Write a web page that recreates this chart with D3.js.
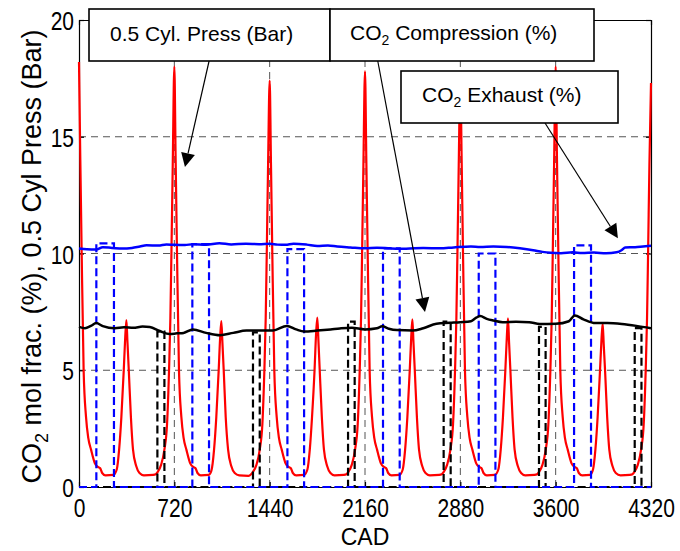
<!DOCTYPE html>
<html>
<head>
<meta charset="utf-8">
<script src="https://cdn.jsdelivr.net/npm/d3@7"></script>
<style>
  body { margin: 0; background: #fff; }
  text { font-family: "Liberation Sans", Arial, Helvetica, sans-serif; fill: #000; }
</style>
</head>
<body>
<svg id="chart" width="680" height="551"></svg>
<script>
// tick values
const cadTicks = [0, 720, 1440, 2160, 2880, 3600, 4320];
const yTicks = [0, 5, 10, 15, 20];

// 0.5 x cylinder pressure (bar) vs crank angle
const cylPress = [
  [0,18.2],[10,14.0],[20,10.1],[35,5.0],[53,3.0],[70,2.1],[91,1.6],[121,1.0],[145,0.85],[160,0.8],[175,0.6],[200,0.5],[260,0.52],[285,0.75],[303,1.6],[320,3.0],[338,5.0],[349,6.4],[358,7.15],[366,6.2],[376,5.0],[392,3.0],[408,1.6],[432,0.9],[457,0.6],[490,0.5],[560,0.52],[580,0.55],[595,0.65],[620,0.95],[645,1.6],[665,2.7],[680,5.0],[690,7.2],[698,10.0],[708,13.8],
  [720,18.0],[730,14.0],[740,10.1],[755,5.0],[773,3.0],[790,2.1],[811,1.6],[841,1.0],[865,0.85],[880,0.8],[895,0.6],[920,0.5],[980,0.52],[1000,0.7],[1020,1.6],[1037,3.0],[1055,5.0],[1066,6.4],[1075,7.1],[1083,6.2],[1093,5.0],[1108,3.0],[1126,1.6],[1150,0.9],[1176,0.6],[1210,0.5],[1280,0.48],[1300,0.55],[1314,0.65],[1340,0.95],[1365,1.6],[1385,2.7],[1400,5.0],[1410,7.2],[1418,10.0],[1428,13.8],
  [1440,17.4],[1450,13.8],[1460,10.0],[1475,5.0],[1493,3.0],[1510,2.1],[1531,1.6],[1561,1.0],[1585,0.85],[1600,0.8],[1615,0.6],[1640,0.5],[1700,0.52],[1725,0.75],[1743,1.6],[1760,3.0],[1779,5.0],[1790,6.5],[1800,7.26],[1808,6.3],[1818,5.0],[1834,3.0],[1850,1.6],[1874,0.9],[1899,0.6],[1930,0.5],[2000,0.52],[2020,0.55],[2035,0.65],[2060,0.95],[2085,1.6],[2105,2.7],[2120,5.0],[2130,7.2],[2138,10.0],[2148,13.8],
  [2160,17.8],[2170,14.0],[2180,10.1],[2195,5.0],[2213,3.0],[2230,2.1],[2251,1.6],[2281,1.0],[2305,0.85],[2320,0.8],[2335,0.6],[2360,0.5],[2420,0.52],[2445,0.75],[2463,1.6],[2480,3.0],[2498,5.0],[2509,6.4],[2518,7.18],[2526,6.2],[2536,5.0],[2552,3.0],[2568,1.6],[2592,0.9],[2617,0.6],[2650,0.5],[2720,0.52],[2740,0.55],[2755,0.65],[2780,0.95],[2805,1.6],[2825,2.7],[2840,5.0],[2850,7.2],[2858,10.0],[2868,13.8],
  [2880,17.6],[2890,14.0],[2900,10.1],[2915,5.0],[2933,3.0],[2950,2.1],[2971,1.6],[3001,1.0],[3025,0.85],[3040,0.8],[3055,0.6],[3080,0.5],[3140,0.52],[3167,0.75],[3185,1.6],[3202,3.0],[3220,5.0],[3231,6.4],[3240,7.22],[3248,6.2],[3258,5.0],[3274,3.0],[3290,1.6],[3314,0.9],[3339,0.6],[3370,0.5],[3440,0.52],[3460,0.55],[3475,0.65],[3500,0.95],[3525,1.6],[3545,2.7],[3560,5.0],[3570,7.2],[3578,10.0],[3588,13.8],
  [3600,18.0],[3610,14.0],[3620,10.1],[3635,5.0],[3653,3.0],[3670,2.1],[3691,1.6],[3721,1.0],[3745,0.85],[3760,0.8],[3775,0.6],[3800,0.5],[3860,0.52],[3882,0.75],[3900,1.6],[3917,3.0],[3935,5.0],[3946,6.3],[3955,7.0],[3963,6.1],[3973,5.0],[3989,3.0],[4005,1.6],[4029,0.9],[4054,0.6],[4090,0.5],[4160,0.52],[4180,0.55],[4195,0.65],[4220,0.95],[4245,1.6],[4265,2.7],[4280,5.0],[4290,7.2],[4298,10.0],[4308,13.8],[4320,17.3]
];

// CO2 exhaust (%)
const co2Exhaust = [
  [0,10.21],[60,10.18],[130,10.17],[180,10.27],[250,10.24],[330,10.21],[400,10.24],[460,10.3],[510,10.35],[600,10.34],[660,10.39],[720,10.37],[800,10.36],[860,10.4],[960,10.38],[1060,10.44],[1150,10.39],[1260,10.42],[1360,10.4],[1440,10.42],[1500,10.38],[1560,10.37],[1620,10.42],[1720,10.38],[1800,10.32],[1880,10.34],[1950,10.3],[2050,10.26],[2160,10.22],[2250,10.25],[2350,10.22],[2470,10.2],[2600,10.24],[2725,10.22],[2830,10.26],[2960,10.3],[3030,10.28],[3130,10.3],[3230,10.28],[3330,10.22],[3430,10.14],[3500,10.07],[3560,10.03],[3640,10.01],[3730,10.05],[3800,10.02],[3890,10.04],[3980,10.01],[4060,10.05],[4100,10.15],[4125,10.26],[4200,10.27],[4260,10.3],[4320,10.33]
];

// CO2 compression (%)
const co2Compression = [
  [0,6.86],[45,6.8],[90,6.9],[130,7.02],[180,6.89],[270,6.8],[340,6.84],[410,6.82],[480,6.87],[535,6.85],[610,6.68],[685,6.55],[740,6.58],[790,6.6],[860,6.75],[960,6.6],[1065,6.5],[1165,6.6],[1265,6.7],[1365,6.7],[1465,6.7],[1570,6.9],[1640,6.75],[1700,6.66],[1800,6.7],[1900,6.75],[1970,6.79],[2060,6.82],[2160,6.75],[2250,6.8],[2290,6.88],[2340,6.78],[2400,6.72],[2520,6.7],[2600,6.8],[2700,6.99],[2800,7.03],[2880,7.06],[2960,7.1],[3000,7.25],[3030,7.32],[3080,7.2],[3130,7.13],[3200,7.06],[3300,7.08],[3400,7.06],[3480,6.98],[3600,6.99],[3700,7.1],[3745,7.35],[3810,7.18],[3900,7.02],[3990,7.02],[4100,6.98],[4210,6.9],[4320,6.8]
];

// sampling windows (start CAD, end CAD, mean level)
const exhStart = [131, 856, 1574, 2296, 3019, 3739];
const exhEnd = [264, 982, 1700, 2422, 3145, 3867];
const exhLevel = [10.43, 10.4, 10.19, 10.22, 10.0, 10.35];

const cmpStart = [592, 1314, 2032, 2754, 3474, 4197];
const cmpEnd = [645, 1365, 2082, 2807, 3524, 4248];
const cmpLevel = [6.65, 6.62, 7.08, 7.08, 6.86, 6.8];

const W = 680, H = 551;
const margin = { top: 20, right: 29, bottom: 64, left: 79 };

const svg = d3.select("#chart");

const x = d3.scaleLinear().domain([0, 4320]).range([margin.left, W - margin.right]);
const y = d3.scaleLinear().domain([0, 20]).range([H - margin.bottom, margin.top]);

// grid
const grid = svg.append("g")
  .attr("stroke", "#555")
  .attr("stroke-width", 1)
  .attr("stroke-dasharray", "7,5");
grid.selectAll("line.h").data(yTicks.slice(1, -1)).join("line")
  .attr("x1", x(0)).attr("x2", x(4320))
  .attr("y1", d => y(d)).attr("y2", d => y(d));
grid.selectAll("line.v").data(cadTicks.slice(1, -1)).join("line")
  .attr("y1", y(0)).attr("y2", y(20))
  .attr("x1", d => x(d)).attr("x2", d => x(d));

// axes box
const fontTick = 21;
const xAxis = svg.append("g")
  .attr("transform", `translate(0,${y(0)})`)
  .call(d3.axisBottom(x).tickValues(cadTicks).tickFormat(d3.format("d")).tickSize(-5).tickSizeOuter(0));
xAxis.selectAll("text")
  .attr("y", null).attr("dy", null)
  .attr("transform", "translate(0,30) scale(1,1.27)")
  .style("font-size", fontTick + "px");

const yAxis = svg.append("g")
  .attr("transform", `translate(${x(0)},0)`)
  .call(d3.axisLeft(y).tickValues(yTicks).tickSize(-5).tickSizeOuter(0));
yAxis.selectAll("text")
  .attr("x", null).attr("dy", null)
  .attr("transform", "translate(-5,9.5) scale(1,1.27)")
  .style("font-size", fontTick + "px");

svg.append("g")
  .attr("transform", `translate(0,${y(20)})`)
  .call(d3.axisTop(x).tickValues(cadTicks).tickSize(-5).tickSizeOuter(0).tickFormat(""));
svg.append("g")
  .attr("transform", `translate(${x(4320)},0)`)
  .call(d3.axisRight(y).tickValues(yTicks).tickSize(-5).tickSizeOuter(0).tickFormat(""));

svg.selectAll(".domain, .tick line").attr("stroke", "#000").attr("stroke-width", 1.2);
svg.selectAll(".tick text").attr("fill", "#000");

// series
const line = d3.line().x(d => x(d[0])).y(d => y(d[1]));
const smooth = d3.line().x(d => x(d[0])).y(d => y(d[1])).curve(d3.curveMonotoneX);

const windowPath = (starts, ends, levels) => {
  const pts = [[0, 0]];
  starts.forEach((s, i) => {
    pts.push([s, 0], [s, levels[i]], [ends[i], levels[i]], [ends[i], 0]);
  });
  pts.push([4320, 0]);
  return pts;
};

svg.append("path")
  .datum(cylPress)
  .attr("fill", "none")
  .attr("stroke", "#ff0000")
  .attr("stroke-width", 2.2)
  .attr("d", smooth);

svg.append("path")
  .datum(windowPath(cmpStart, cmpEnd, cmpLevel))
  .attr("fill", "none")
  .attr("stroke", "#000")
  .attr("stroke-width", 2.2)
  .attr("stroke-dasharray", "8,4")
  .attr("d", line);

svg.append("path")
  .datum(windowPath(exhStart, exhEnd, exhLevel))
  .attr("fill", "none")
  .attr("stroke", "#0000ff")
  .attr("stroke-width", 2.2)
  .attr("stroke-dasharray", "8,4")
  .attr("d", line);

svg.append("path")
  .datum(co2Compression)
  .attr("fill", "none")
  .attr("stroke", "#000")
  .attr("stroke-width", 2.5)
  .attr("d", smooth);

svg.append("path")
  .datum(co2Exhaust)
  .attr("fill", "none")
  .attr("stroke", "#0000ff")
  .attr("stroke-width", 2.5)
  .attr("d", smooth);

// axis titles
svg.append("text")
  .attr("x", (x(0) + x(4320)) / 2)
  .attr("y", 545)
  .attr("text-anchor", "middle")
  .style("font-size", "23px")
  .text("CAD");

const yTitle = svg.append("text")
  .attr("transform", `translate(41,${(y(0) + y(20)) / 2 + 3}) rotate(-90)`)
  .attr("text-anchor", "middle")
  .style("font-size", "27px");
yTitle.append("tspan").text("CO");
yTitle.append("tspan").attr("dy", 7).style("font-size", "18px").text("2");
yTitle.append("tspan").attr("dy", -7).text(" mol frac. (%), 0.5 Cyl Press (Bar)");

// annotation boxes with arrows
const arrowHead = (g, x1, y1, x2, y2) => {
  const a = Math.atan2(y2 - y1, x2 - x1);
  const L = 14, w = 7;
  const bx = x2 - L * Math.cos(a), by = y2 - L * Math.sin(a);
  const px = -Math.sin(a) * w, py = Math.cos(a) * w;
  g.append("line")
    .attr("x1", x1).attr("y1", y1).attr("x2", bx).attr("y2", by)
    .attr("stroke", "#000").attr("stroke-width", 1.2);
  g.append("path")
    .attr("d", `M${x2},${y2}L${bx + px},${by + py}L${bx - px},${by - py}Z`)
    .attr("fill", "#000");
};

const notes = [
  { box: [89, 9, 241, 52], tx: 110, ty: 40.5, parts: [["0.5 Cyl. Press (Bar)"]],
    from: [210, 57], to: [800, 13.7] },
  { box: [330, 9, 264, 52], tx: 350, ty: 40, parts: [["CO"], ["2", 1], [" Compression (%)"]],
    from: [377, 57], to: [2613, 7.5] },
  { box: [401, 71, 217, 52], tx: 422, ty: 101.5, parts: [["CO"], ["2", 1], [" Exhaust (%)"]],
    from: [545, 123], to: [4070, 10.65] }
];

const ann = svg.append("g");
notes.forEach(n => {
  arrowHead(ann, n.from[0], n.from[1], x(n.to[0]), y(n.to[1]));
});
notes.forEach(n => {
  ann.append("rect")
    .attr("x", n.box[0]).attr("y", n.box[1])
    .attr("width", n.box[2]).attr("height", n.box[3])
    .attr("fill", "#fff").attr("stroke", "#000").attr("stroke-width", 1.6);
  const t = ann.append("text")
    .attr("x", n.tx).attr("y", n.ty)
    .style("font-size", "21px");
  let shift = 0;
  n.parts.forEach(p => {
    const sp = t.append("tspan").text(p[0]);
    if (p[1]) { sp.attr("dy", 5).style("font-size", "14px"); shift = 5; }
    else if (shift) { sp.attr("dy", -shift); shift = 0; }
  });
});
</script>
</body>
</html>
